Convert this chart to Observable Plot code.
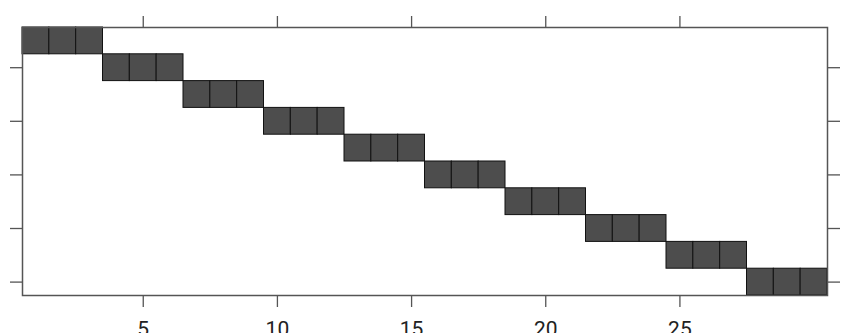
<!DOCTYPE html>
<html>
<head>
<meta charset="utf-8">
<script src="https://cdn.jsdelivr.net/npm/d3@7"></script>
<script src="https://cdn.jsdelivr.net/npm/@observablehq/plot@0.6"></script>
<style>
  html, body { margin: 0; padding: 0; background: #fff; overflow: hidden; }
  svg { display: block; }
</style>
</head>
<body>
<div id="chart"></div>
<script>
const columns = [1,2,3,4,5,6,7,8,9,10,11,12,13,14,15,16,17,18,19,20,21,22,23,24,25,26,27,28,29,30];
const rows    = [1,1,1,2,2,2,3,3,3,4,4,4,5,5,5,6,6,6,7,7,7,8,8,8,9,9,9,10,10,10];
const xTicks = [5, 10, 15, 20, 25];
const yTicks = [2, 4, 6, 8, 10];

const cells = columns.map((c, i) => ({col: c, row: rows[i]}));
const axisColor = "#555";

const chart = Plot.plot({
  width: 846,
  height: 333,
  marginLeft: 22,
  marginRight: 19,
  marginTop: 27,
  marginBottom: 38,
  style: {fontFamily: "Roboto, 'Liberation Sans', sans-serif", background: "#fff", overflow: "hidden"},
  x: {type: "linear", domain: [0.5, 30.5]},
  y: {type: "linear", domain: [0.5, 10.5], reverse: true},
  marks: [
    Plot.rect(cells, {
      x1: d => d.col - 0.5, x2: d => d.col + 0.5,
      y1: d => d.row - 0.5, y2: d => d.row + 0.5,
      fill: "#4d4d4d", stroke: "#111", strokeWidth: 1
    }),
    Plot.frame({stroke: axisColor, strokeWidth: 1.5}),
    Plot.axisX({anchor: "bottom", ticks: xTicks, tickSize: 12, tickPadding: 14, fontSize: 21, color: "#222", stroke: axisColor, strokeWidth: 1.3, label: null, tickFormat: d => String(d)}),
    Plot.axisX({anchor: "top", ticks: xTicks, tickSize: 12, tickFormat: () => "", stroke: axisColor, strokeWidth: 1.3, label: null}),
    Plot.axisY({anchor: "left", ticks: yTicks, tickSize: 12, tickFormat: () => "", stroke: axisColor, strokeWidth: 1.3, label: null}),
    Plot.axisY({anchor: "right", ticks: yTicks, tickSize: 12, tickFormat: () => "", stroke: axisColor, strokeWidth: 1.3, label: null})
  ]
});
document.getElementById("chart").appendChild(chart);
</script>
</body>
</html>
